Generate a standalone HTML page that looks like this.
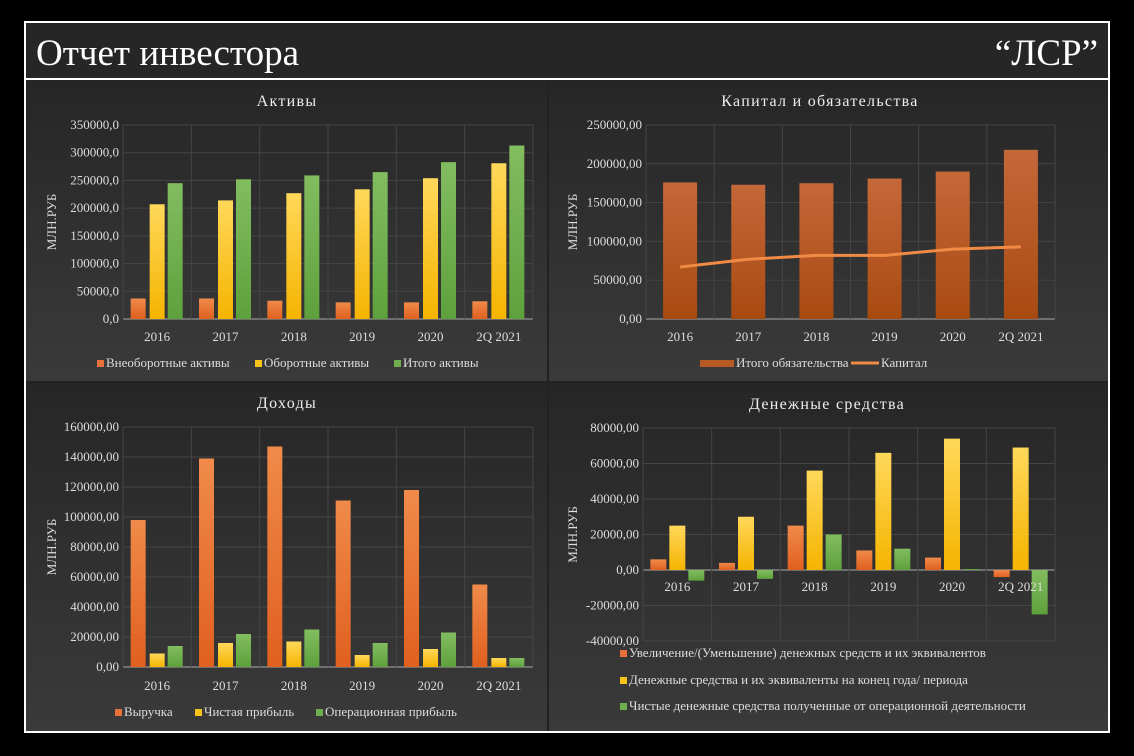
<!DOCTYPE html>
<html><head><meta charset="utf-8"><style>
html,body{margin:0;padding:0;background:#000;}
svg{display:block;font-family:"Liberation Serif",serif;}
</style></head><body>
<svg id="s" width="1134" height="756" viewBox="0 0 1134 756" xmlns="http://www.w3.org/2000/svg">
<defs>
<linearGradient id="pbg" x1="0" y1="0" x2="0" y2="1"><stop offset="0" stop-color="#262626"/><stop offset="1" stop-color="#3a3a3a"/></linearGradient>
<linearGradient id="gO" x1="0" y1="0" x2="0" y2="1"><stop offset="0" stop-color="#f08a4a"/><stop offset="1" stop-color="#e0601f"/></linearGradient>
<linearGradient id="gY" x1="0" y1="0" x2="0" y2="1"><stop offset="0" stop-color="#ffd85a"/><stop offset="1" stop-color="#f5b400"/></linearGradient>
<linearGradient id="gG" x1="0" y1="0" x2="0" y2="1"><stop offset="0" stop-color="#82bd60"/><stop offset="1" stop-color="#5ea13c"/></linearGradient>
<linearGradient id="gB" x1="0" y1="0" x2="0" y2="1"><stop offset="0" stop-color="#c4683a"/><stop offset="1" stop-color="#a84a10"/></linearGradient>
</defs>
<rect x="25" y="22" width="1084" height="710" fill="#222" stroke="#fff" stroke-width="2"/>
<rect x="26" y="23" width="1082" height="55" fill="#262626"/>
<line x1="25" y1="79" x2="1109" y2="79" stroke="#fff" stroke-width="2"/>
<text x="36" y="65" font-size="37" fill="#fff">Отчет инвестора</text>
<text x="1098" y="65" font-size="37" fill="#fff" text-anchor="end">“ЛСР”</text>
<rect x="26" y="80" width="521" height="301" fill="url(#pbg)"/>
<rect x="549" y="80" width="559" height="301" fill="url(#pbg)"/>
<rect x="26" y="383" width="521" height="348" fill="url(#pbg)"/>
<rect x="549" y="383" width="559" height="348" fill="url(#pbg)"/>
<g id="c"></g>
</svg>
<script>
const categories = ["2016","2017","2018","2019","2020","2Q 2021"];
const assetsNonCurrent = [37000,37000,33000,30000,30000,32000];
const assetsCurrent = [207000,214000,227000,234000,254000,281000];
const assetsTotal = [245000,252000,259000,265000,283000,313000];
const liabilitiesTotal = [176000,173000,175000,181000,190000,218000];
const capital = [67000,77000,82000,82000,90000,93000];
const revenue = [98000,139000,147000,111000,118000,55000];
const netProfit = [9000,16000,17000,8000,12000,6000];
const opProfit = [14000,22000,25000,16000,23000,6000];
const cashChange = [6000,4000,25000,11000,7000,-4000];
const cashEnd = [25000,30000,56000,66000,74000,69000];
const cashOp = [-6000,-5000,20000,12000,500,-25000];
const ticks1 = [0,50000,100000,150000,200000,250000,300000,350000];
const ticks2 = [0,50000,100000,150000,200000,250000];
const ticks3 = [0,20000,40000,60000,80000,100000,120000,140000,160000];
const ticks4 = [-40000,-20000,0,20000,40000,60000,80000];

const NS="http://www.w3.org/2000/svg";
const root=document.getElementById('c');
function mk(tag,attrs,parent){const e=document.createElementNS(NS,tag);for(const k in attrs)e.setAttribute(k,attrs[k]);(parent||root).appendChild(e);return e;}
function fmt(v,d){return v.toFixed(d).replace('.',',');}

function chart(o){
  const g=mk('g',{});
  
  
  const min=o.ticks[0],max=o.ticks[o.ticks.length-1];
  const y=v=>o.y1-(v-min)/(max-min)*(o.y1-o.y0);
  const cw=(o.x1-o.x0)/categories.length;
  const x=i=>o.x0+cw*(i+0.5);
  const t=mk('text',{x:o.tx,y:o.ty,'font-size':16,fill:'#eee','text-anchor':'middle','letter-spacing':'1.3'},g);
  t.textContent=o.title;
  
  
  o.ticks.forEach(v=>{
    const gl=mk('line',{x1:o.x0,x2:o.x1,y1:y(v),y2:y(v),stroke:v===0?'#aaa':'#454545','stroke-width':1},g);
    
    
    const tl=mk('text',{x:o.x0-4,y:y(v)+4,'font-size':13,fill:'#ddd','text-anchor':'end'},g);
    tl.textContent=fmt(v,o.dec);
    
    
  });
  for(let i=0;i<=categories.length;i++){
    const vl=mk('line',{x1:o.x0+cw*i,x2:o.x0+cw*i,y1:o.y0,y2:o.y1,stroke:'#454545'},g);
    
    
  }
  const yt=mk('text',{x:0,y:0,'font-size':13,fill:'#ddd','text-anchor':'middle',transform:`translate(${o.yax},${(o.y0+o.y1)/2}) rotate(-90)`},g);
  yt.textContent='МЛН.РУБ';
  
  
  o.series.forEach(s=>{
    s.data.forEach((v,i)=>{
      const a=y(0),b=y(v);
      const r=mk('rect',{x:x(i)+s.off-s.w/2,y:Math.min(a,b),width:s.w,height:Math.abs(a-b),fill:s.fill},g);
      
      
    });
  });
  if(o.line){
    let d='';o.line.forEach((v,i)=>{d+=(i?'L':'M')+x(i)+' '+y(v);});
    const p=mk('path',{d:d,fill:'none',stroke:'#f08a45','stroke-width':3,'stroke-linejoin':'round'},g);
    
    
  }
  categories.forEach((c,i)=>{
    const ct=mk('text',{x:x(i),y:o.cy,'font-size':13,fill:'#ddd','text-anchor':'middle'},g);
    ct.textContent=c;
    
    
  });
  o.legend.forEach(l=>{
    const lg=mk('g',{},g);
    
    
    if(l.line) mk('line',{x1:l.x,x2:l.x+l.sw,y1:l.y-4,y2:l.y-4,stroke:l.fill,'stroke-width':3},lg);
    else mk('rect',{x:l.x,y:l.y-l.sh,width:l.sw,height:l.sh,fill:l.fill},lg);
    const lt=mk('text',{x:l.x+l.sw+2,y:l.y,'font-size':13,fill:'#ddd'},lg);
    lt.textContent=l.text;
  });
}

chart({name:'assets-chart',title:'Активы',tx:287,ty:106,x0:123,x1:533,y0:125,y1:319,ticks:ticks1,dec:1,yax:56,cy:341,
  series:[{key:'noncurrent',data:assetsNonCurrent,fill:'url(#gO)',w:15,off:-19},{key:'current',data:assetsCurrent,fill:'url(#gY)',w:15,off:0},{key:'total',data:assetsTotal,fill:'url(#gG)',w:15,off:18}],
  legend:[{x:97,y:367,sw:7,sh:7,fill:'#e8703a',text:'Внеоборотные активы'},{x:255,y:367,sw:7,sh:7,fill:'#f8c21a',text:'Оборотные активы'},{x:394,y:367,sw:7,sh:7,fill:'#6fae4d',text:'Итого активы'}]});

chart({name:'capital-chart',title:'Капитал и обязательства',tx:820,ty:106,x0:646,x1:1055,y0:125,y1:319,ticks:ticks2,dec:2,yax:577,cy:341,
  series:[{key:'liabilities',data:liabilitiesTotal,fill:'url(#gB)',w:34,off:0}],line:capital,
  legend:[{x:700,y:367,sw:34,sh:7,fill:'#b85a25',text:'Итого обязательства'},{x:851,y:367,sw:28,line:true,fill:'#f08a45',text:'Капитал'}]});

chart({name:'income-chart',title:'Доходы',tx:287,ty:408,x0:123,x1:533,y0:427,y1:667,ticks:ticks3,dec:2,yax:56,cy:690,
  series:[{key:'revenue',data:revenue,fill:'url(#gO)',w:15,off:-19},{key:'net-profit',data:netProfit,fill:'url(#gY)',w:15,off:0},{key:'op-profit',data:opProfit,fill:'url(#gG)',w:15,off:18}],
  legend:[{x:115,y:716,sw:7,sh:7,fill:'#e8703a',text:'Выручка'},{x:195,y:716,sw:7,sh:7,fill:'#f8c21a',text:'Чистая прибыль'},{x:316,y:716,sw:7,sh:7,fill:'#6fae4d',text:'Операционная прибыль'}]});

chart({name:'cash-chart',title:'Денежные средства',tx:827,ty:409,x0:643,x1:1055,y0:428,y1:641,ticks:ticks4,dec:2,yax:577,cy:591,
  series:[{key:'change',data:cashChange,fill:'url(#gO)',w:16,off:-19},{key:'end',data:cashEnd,fill:'url(#gY)',w:16,off:0},{key:'operating',data:cashOp,fill:'url(#gG)',w:16,off:19}],
  legend:[{x:620,y:657,sw:7,sh:7,fill:'#e8703a',text:'Увеличение/(Уменьшение) денежных средств и их эквивалентов'},{x:620,y:684,sw:7,sh:7,fill:'#f8c21a',text:'Денежные средства и их эквиваленты на конец года/ периода'},{x:620,y:710,sw:7,sh:7,fill:'#6fae4d',text:'Чистые денежные средства полученные от операционной деятельности'}]});
</script>
</body></html>
